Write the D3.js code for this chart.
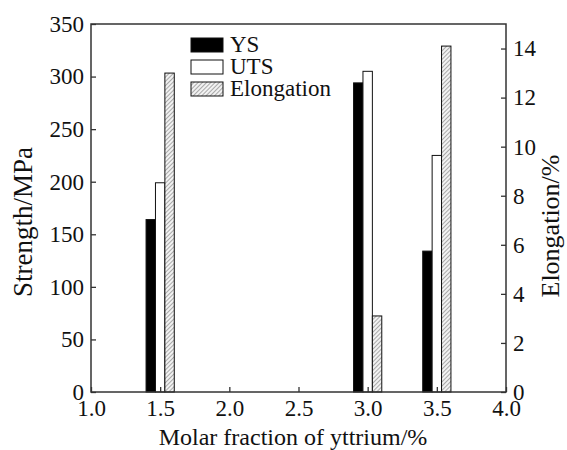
<!DOCTYPE html>
<html>
<head>
<meta charset="utf-8">
<script src="https://cdn.jsdelivr.net/npm/d3@7"></script>
<style>
body { margin: 0; background: #fff; }
text { font-family: "Liberation Serif", "Times New Roman", serif; fill: #111; }
</style>
</head>
<body>
<svg id="chart"></svg>
<script>
// yttrium fraction (mol %) and measured properties
var fractions = [1.5, 3.0, 3.5];
var ysValues = [164, 294, 134];
var utsValues = [199, 305, 225];
var elongValues = [13.0, 3.1, 14.1];

var xTicks = [1.0, 1.5, 2.0, 2.5, 3.0, 3.5, 4.0];
var leftTicks = [0, 50, 100, 150, 200, 250, 300, 350];
var rightTicks = [0, 2, 4, 6, 8, 10, 12, 14];
var legendNames = ["YS", "UTS", "Elongation"];

var screen = {width: 567, height: 450};
var plot = {left: 91, right: 506, top: 24, bottom: 392};

var svg = d3.select("#chart")
    .attr("width", screen.width)
    .attr("height", screen.height);

var defs = svg.append("defs");
var hatch = defs.append("pattern")
    .attr("id", "hatch")
    .attr("patternUnits", "userSpaceOnUse")
    .attr("width", 3)
    .attr("height", 3)
    .attr("patternTransform", "rotate(45)");
hatch.append("rect").attr("width", 3).attr("height", 3).attr("fill", "#f2f2f2");
hatch.append("line")
    .attr("x1", 0).attr("y1", 0).attr("x2", 0).attr("y2", 3)
    .attr("stroke", "#777").attr("stroke-width", 1.2);

var xScale = d3.scaleLinear().domain([1, 4]).range([plot.left, plot.right]);
var yLeft = d3.scaleLinear().domain([0, 350]).range([plot.bottom, plot.top]);
var yRight = d3.scaleLinear().domain([0, 15]).range([plot.bottom, plot.top]);

// bar width in x units
var barW = xScale(1.068) - xScale(1);

var bars = svg.append("g");

var series = [
    {vals: ysValues, scale: yLeft, off: -1, fill: "#000"},
    {vals: utsValues, scale: yLeft, off: 0, fill: "#fff"},
    {vals: elongValues, scale: yRight, off: 1, fill: "url(#hatch)"}
];

series.forEach(function(s)
{
    bars.selectAll(null)
    .data(fractions)
    .enter()
    .append("rect")
    .attr("x", function(d) { return xScale(d) + (s.off - 0.5) * barW; })
    .attr("y", function(d, i) { return s.scale(s.vals[i]); })
    .attr("width", barW)
    .attr("height", function(d, i) { return plot.bottom - s.scale(s.vals[i]); })
    .attr("fill", s.fill)
    .attr("stroke", "#111")
    .attr("stroke-width", 1);
});

var fontTick = "23px";

var xAxis = d3.axisBottom(xScale)
    .tickValues(xTicks)
    .tickFormat(d3.format(".1f"))
    .tickSizeInner(-5).tickSizeOuter(0).tickPadding(8);
var lAxis = d3.axisLeft(yLeft)
    .tickValues(leftTicks)
    .tickSizeInner(-5).tickSizeOuter(0).tickPadding(7);
var rAxis = d3.axisRight(yRight)
    .tickValues(rightTicks)
    .tickSizeInner(-5).tickSizeOuter(0).tickPadding(7);

var styleAxis = function(g)
{
    g.select(".domain").remove();
    g.selectAll("line").attr("stroke", "#333").attr("stroke-width", 1.3);
    g.selectAll("text")
    .attr("font-family", "Liberation Serif, Times New Roman, serif")
    .attr("font-size", fontTick)
    .attr("fill", "#111");
}

svg.append("g").attr("transform", "translate(0," + plot.bottom + ")").call(xAxis).call(styleAxis);
svg.append("g").attr("transform", "translate(" + plot.left + ",0)").call(lAxis).call(styleAxis);
svg.append("g").attr("transform", "translate(" + plot.right + ",0)").call(rAxis).call(styleAxis);

// frame
svg.append("rect")
    .attr("x", plot.left).attr("y", plot.top)
    .attr("width", plot.right - plot.left)
    .attr("height", plot.bottom - plot.top)
    .attr("fill", "none")
    .attr("stroke", "#333")
    .attr("stroke-width", 1.5);

// legend
var legend = svg.append("g").attr("transform", "translate(191,38)");
var legendFills = ["#000", "#fff", "url(#hatch)"];
legend.selectAll("rect")
    .data(legendNames)
    .enter()
    .append("rect")
    .attr("x", 0)
    .attr("y", function(d, i) { return i * 22; })
    .attr("width", 32)
    .attr("height", 14)
    .attr("fill", function(d, i) { return legendFills[i]; })
    .attr("stroke", "#111")
    .attr("stroke-width", 1);
legend.selectAll("text")
    .data(legendNames)
    .enter()
    .append("text")
    .attr("x", 39)
    .attr("y", function(d, i) { return i * 22 + 14; })
    .attr("font-size", "23px")
    .text(function(d) { return d; });

// titles
svg.append("text")
    .attr("x", 293).attr("y", 445)
    .attr("text-anchor", "middle")
    .attr("font-size", "24px")
    .text("Molar fraction of yttrium/%");

svg.append("text")
    .attr("transform", "translate(32,222) rotate(-90)")
    .attr("text-anchor", "middle")
    .attr("font-size", "27px")
    .text("Strength/MPa");

svg.append("text")
    .attr("transform", "translate(559,226) rotate(-90)")
    .attr("text-anchor", "middle")
    .attr("font-size", "26px")
    .text("Elongation/%");
</script>
</body>
</html>
